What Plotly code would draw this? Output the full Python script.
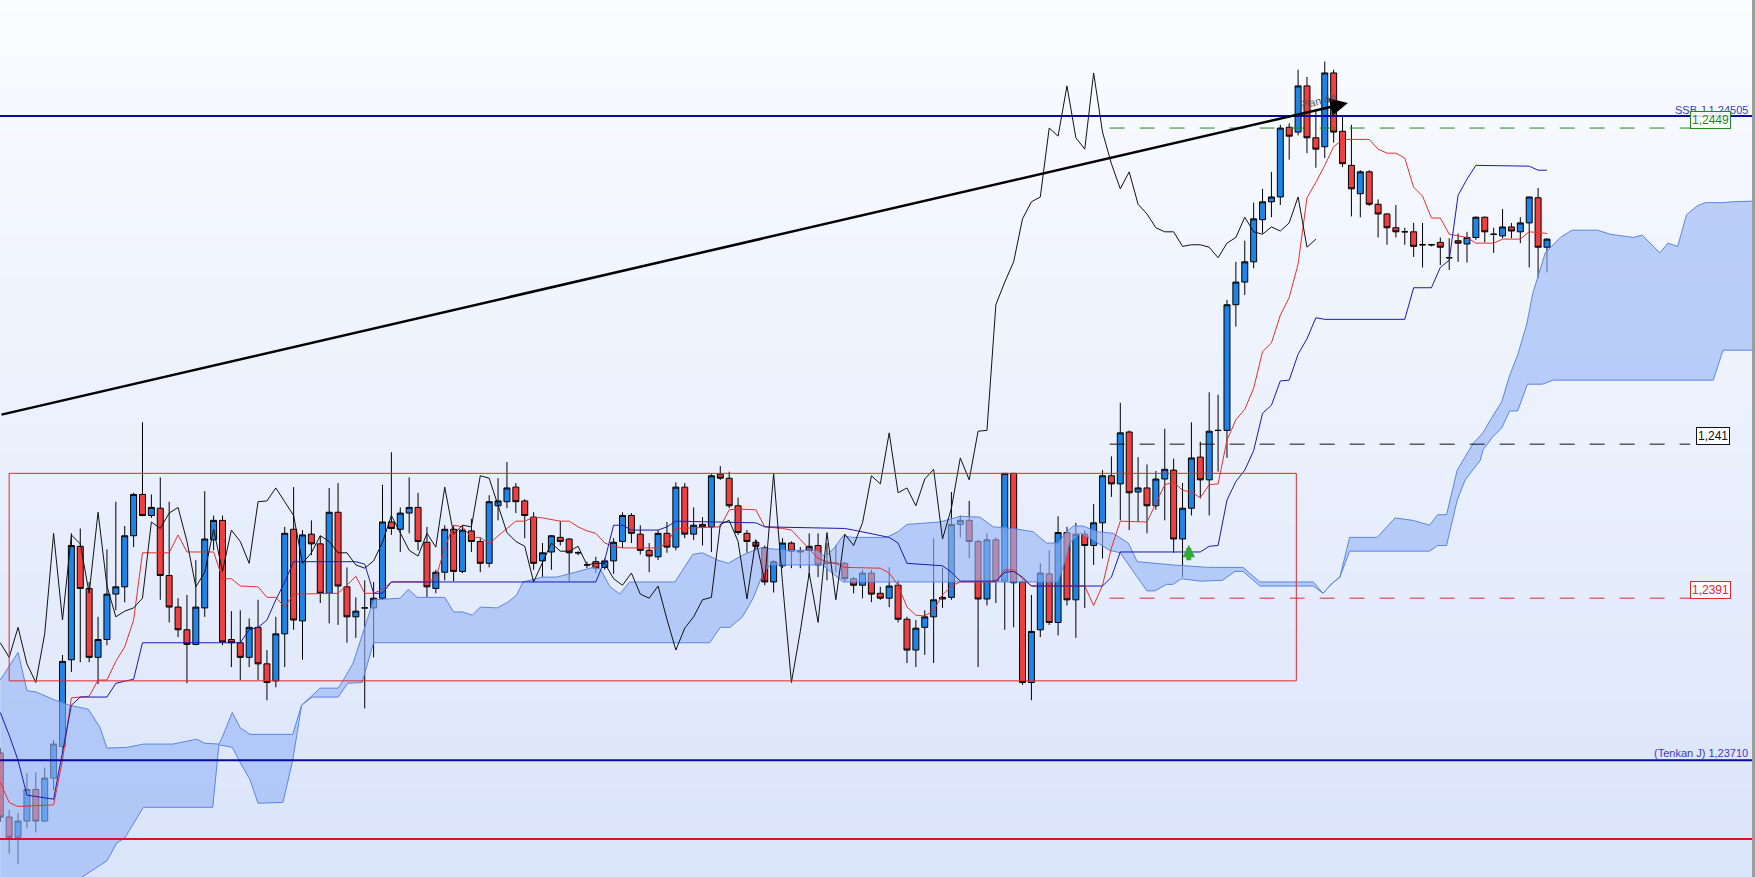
import plotly.graph_objects as go

# bougies (index de barre 0..174)
opens = [1.23719,1.23640,1.23615,1.23635,1.23674,1.23635,1.23688,1.23727,1.23834,1.23974,
         1.23922,1.23837,1.23859,1.23915,1.23924,1.23987,1.24038,1.24012,1.24021,1.23938,
         1.23899,1.23871,1.23853,1.23898,1.23982,1.24006,1.23859,1.23855,1.23837,1.23874,
         1.23829,1.23808,1.23866,1.23995,1.23882,1.23989,1.23977,1.23916,1.24016,1.23924,
         1.23887,1.23898,1.23898,1.23910,1.24004,1.23995,1.24015,1.24022,1.23979,1.23922,
         1.23942,1.23995,1.23943,1.23993,1.23980,1.23953,1.24024,1.24029,1.24047,1.24030,
         1.24010,1.23956,1.23967,1.23985,1.23983,1.23966,1.23951,1.23955,1.23948,1.23956,
         1.23980,1.24012,1.23989,1.23969,1.23961,1.23990,1.23973,1.24047,1.23989,1.24001,
         1.23998,1.24063,1.24058,1.24024,1.23990,1.23979,1.23972,1.23930,1.23950,1.23978,
         1.23967,1.23969,1.23975,1.23953,1.23953,1.23953,1.23934,1.23926,1.23941,1.23916,
         1.23910,1.23926,1.23884,1.23846,1.23874,1.23887,1.23909,1.23911,1.24001,1.24006,
         1.23980,1.23909,1.23982,1.23931,1.24064,1.23930,1.23806,1.23871,1.23940,1.23880,
         1.23991,1.23908,1.23989,1.23975,1.24003,1.24061,1.24051,1.24115,1.24041,1.24046,
         1.24024,1.24057,1.24068,1.23983,1.24021,1.24084,1.24056,1.24117,1.24117,1.24272,
         1.24300,1.24325,1.24377,1.24399,1.24405,1.24491,1.24485,1.24542,1.24478,1.24467,
         1.24558,1.24486,1.24444,1.24409,1.24436,1.24396,1.24384,1.24367,1.24362,1.24362,
         1.24346,1.24346,1.24349,1.24330,1.24351,1.24347,1.24355,1.24380,1.24359,1.24357,
         1.24368,1.24362,1.24373,1.24404,1.24343]
highs = [1.23725,1.23649,1.23645,1.23694,1.23695,1.23701,1.23735,1.23840,1.23990,1.23996,
         1.23930,1.23887,1.23970,1.24029,1.23999,1.24040,1.24127,1.24038,1.24059,1.24029,
         1.23910,1.23914,1.23957,1.24042,1.24012,1.24012,1.23894,1.23895,1.23885,1.23908,
         1.23846,1.23887,1.23998,1.24047,1.23994,1.24006,1.23987,1.24046,1.24052,1.23948,
         1.23911,1.23932,1.23930,1.24050,1.24090,1.24022,1.24059,1.24040,1.23998,1.23945,
         1.24000,1.24000,1.24000,1.24008,1.23984,1.24037,1.24058,1.24078,1.24052,1.24032,
         1.24016,1.23978,1.23988,1.24005,1.23984,1.23968,1.23955,1.23961,1.23959,1.23984,
         1.24016,1.24015,1.24000,1.23978,1.23994,1.24004,1.24053,1.24052,1.24022,1.24010,
         1.24063,1.24073,1.24066,1.24034,1.23994,1.23982,1.23975,1.23957,1.23984,1.23980,
         1.23973,1.23990,1.23990,1.23978,1.23975,1.23955,1.23936,1.23945,1.23945,1.23924,
         1.23948,1.23932,1.23887,1.23883,1.23895,1.23984,1.23948,1.24041,1.24012,1.24030,
         1.23982,1.23990,1.23985,1.24064,1.24064,1.23932,1.23914,1.23953,1.23969,1.24011,
         1.23998,1.24003,1.23994,1.24026,1.24068,1.24085,1.24151,1.24117,1.24084,1.24075,
         1.24067,1.24119,1.24082,1.24052,1.24127,1.24103,1.24164,1.24161,1.24278,1.24325,
         1.24351,1.24398,1.24415,1.24436,1.24494,1.24496,1.24562,1.24553,1.24512,1.24572,
         1.24562,1.24504,1.24494,1.24438,1.24438,1.24402,1.24385,1.24395,1.24367,1.24373,
         1.24373,1.24347,1.24355,1.24354,1.24360,1.24362,1.24381,1.24381,1.24367,1.24390,
         1.24373,1.24380,1.24405,1.24416,1.24354]
lows = [1.23634,1.23595,1.23582,1.23626,1.23621,1.23634,1.23673,1.23722,1.23819,1.23831,
        1.23831,1.23804,1.23852,1.23895,1.23905,1.23973,1.24011,1.24009,1.23908,1.23880,
        1.23862,1.23805,1.23852,1.23887,1.23969,1.23852,1.23825,1.23809,1.23825,1.23809,
        1.23784,1.23800,1.23825,1.23871,1.23834,1.23963,1.23904,1.23879,1.23877,1.23855,
        1.23861,1.23774,1.23837,1.23908,1.23988,1.23967,1.23990,1.23969,1.23911,1.23916,
        1.23932,1.23931,1.23941,1.23967,1.23942,1.23948,1.24006,1.24021,1.24015,1.23984,
        1.23945,1.23936,1.23945,1.23975,1.23930,1.23963,1.23947,1.23941,1.23945,1.23940,
        1.23972,1.23978,1.23964,1.23942,1.23957,1.23966,1.23969,1.23984,1.23982,1.23975,
        1.23967,1.24056,1.24021,1.23988,1.23966,1.23969,1.23926,1.23917,1.23947,1.23947,
        1.23947,1.23936,1.23936,1.23932,1.23942,1.23930,1.23916,1.23910,1.23905,1.23908,
        1.23899,1.23880,1.23830,1.23825,1.23840,1.23830,1.23898,1.23908,1.23985,1.23959,
        1.23825,1.23901,1.23904,1.23871,1.23874,1.23803,1.23784,1.23862,1.23877,1.23864,
        1.23901,1.23861,1.23898,1.23951,1.23959,1.24035,1.24006,1.23994,1.24004,1.23990,
        1.24019,1.24006,1.23966,1.23936,1.24012,1.24033,1.24012,1.24066,1.24083,1.24245,
        1.24284,1.24317,1.24360,1.24380,1.24395,1.24451,1.24481,1.24459,1.24441,1.24453,
        1.24472,1.24442,1.24381,1.24380,1.24394,1.24355,1.24346,1.24355,1.24346,1.24331,
        1.24318,1.24344,1.24321,1.24315,1.24325,1.24324,1.24352,1.24349,1.24336,1.24354,
        1.24354,1.24348,1.24318,1.24305,1.24312]
closes = [1.23640,1.23615,1.23635,1.23674,1.23635,1.23688,1.23730,1.23832,1.23975,1.23922,
          1.23837,1.23859,1.23915,1.23924,1.23987,1.24038,1.24012,1.24022,1.23938,1.23899,
          1.23871,1.23853,1.23899,1.23983,1.24006,1.23856,1.23855,1.23837,1.23874,1.23829,
          1.23806,1.23866,1.23990,1.23883,1.23988,1.23977,1.23916,1.24016,1.23925,1.23887,
          1.23894,1.23898,1.23910,1.24004,1.23996,1.24015,1.24022,1.23980,1.23924,1.23942,
          1.23995,1.23943,1.23994,1.23980,1.23953,1.24029,1.24030,1.24046,1.24029,1.24012,
          1.23953,1.23966,1.23987,1.23980,1.23966,1.23966,1.23951,1.23947,1.23956,1.23979,
          1.24012,1.23990,1.23969,1.23962,1.23990,1.23973,1.24047,1.23989,1.24000,1.23998,
          1.24061,1.24058,1.24024,1.23991,1.23980,1.23974,1.23930,1.23955,1.23978,1.23968,
          1.23968,1.23974,1.23951,1.23953,1.23953,1.23934,1.23926,1.23941,1.23915,1.23910,
          1.23925,1.23884,1.23846,1.23873,1.23887,1.23908,1.23911,1.24001,1.24006,1.23980,
          1.23909,1.23982,1.23931,1.24064,1.23929,1.23806,1.23869,1.23941,1.23880,1.23991,
          1.23908,1.23989,1.23975,1.24003,1.24061,1.24051,1.24114,1.24040,1.24046,1.24024,
          1.24057,1.24069,1.23983,1.24021,1.24083,1.24056,1.24116,1.24117,1.24272,1.24300,
          1.24325,1.24378,1.24399,1.24405,1.24490,1.24480,1.24542,1.24478,1.24464,1.24558,
          1.24485,1.24446,1.24415,1.24436,1.24396,1.24384,1.24367,1.24362,1.24362,1.24344,
          1.24346,1.24346,1.24343,1.24330,1.24348,1.24355,1.24380,1.24362,1.24359,1.24368,
          1.24363,1.24373,1.24405,1.24343,1.24353]
bars = list(range(len(closes)))

# Tenkan (rouge)
tk_x = [0,1,2,6,7,8,10,11,12,13,14,15,16,19,20,21,24,25,26,27,29,30,31,32,33,38,39,40,41,42,
        43,44,48,49,50,51,52,53,54,55,56,58,59,60,61,63,64,65,66,67,68,69,70,74,75,76,81,82,83,85,
        86,88,89,90,92,93,94,95,99,100,101,102,103,104,105,106,107,108,112,113,114,115,116,122,
        123,124,125,126,129,130,131,132,133,134,135,136,137,138,139,140,141,142,143,144,145,146,
        147,148,149,150,151,154,155,156,157,158,159,160,161,162,163,165,166,168,169,171,172,174]
tk_y = [1.23683,1.23658,1.23653,1.23655,1.23710,1.23787,1.23789,1.23809,1.23809,1.23832,
        1.23850,1.23883,1.23966,1.23966,1.23988,1.23967,1.23967,1.23934,1.23934,1.23925,
        1.23924,1.23911,1.23911,1.23899,1.23915,1.23916,1.23926,1.23937,1.23916,1.23916,
        1.23921,1.23930,1.23930,1.23935,1.23972,1.24000,1.23998,1.23985,1.23985,1.23977,
        1.23987,1.24005,1.24005,1.24010,1.24009,1.24005,1.24005,1.23998,1.23993,1.23990,
        1.23978,1.23974,1.23972,1.23972,1.23978,1.23996,1.23998,1.24019,1.24020,1.24019,
        1.23998,1.23996,1.23994,1.23982,1.23959,1.23955,1.23953,1.23948,1.23947,1.23941,
        1.23926,1.23899,1.23889,1.23888,1.23895,1.23914,1.23925,1.23930,1.23930,1.23945,
        1.23945,1.23934,1.23925,1.23925,1.23901,1.23926,1.23972,1.24005,1.24004,1.24027,
        1.24050,1.24053,1.24043,1.24041,1.24034,1.24050,1.24051,1.24105,1.24130,1.24143,
        1.24169,1.24214,1.24225,1.24259,1.24281,1.24322,1.24404,1.24423,1.24444,1.24467,
        1.24476,1.24476,1.24464,1.24459,1.24459,1.24453,1.24417,1.24406,1.24379,1.24379,
        1.24359,1.24355,1.24348,1.24348,1.24353,1.24353,1.24362,1.24360]

# Kijun (bleu foncé)
kj_x = [0,1,2,3,6,7,8,9,12,13,15,16,27,28,29,30,31,32,33,40,41,42,43,44,67,68,69,70,71,74,
        75,76,85,86,95,96,100,101,102,106,107,108,112,113,114,115,116,124,125,126,135,136,137,
        138,139,140,141,142,143,144,145,146,147,148,149,158,159,161,162,163,164,165,166,172,173,174]
kj_y = [1.23769,1.23741,1.23710,1.23667,1.23662,1.23722,1.23778,1.23788,1.23788,1.23805,
        1.23810,1.23855,1.23855,1.23871,1.23874,1.23883,1.23908,1.23930,1.23955,1.23955,
        1.23952,1.23916,1.23916,1.23930,1.23930,1.23957,1.24000,1.24000,1.23994,1.23994,
        1.23998,1.24005,1.24003,1.23998,1.23996,1.23994,1.23985,1.23978,1.23953,1.23950,
        1.23942,1.23931,1.23931,1.23942,1.23943,1.23936,1.23925,1.23925,1.23936,1.23967,
        1.23967,1.23974,1.23975,1.24031,1.24054,1.24068,1.24092,1.24138,1.24148,1.24178,
        1.24179,1.24211,1.24230,1.24256,1.24254,1.24254,1.24293,1.24293,1.24318,1.24327,
        1.24407,1.24427,1.24444,1.24443,1.24438,1.24438]

# nuage : bord haut / bord bas
cu_x = [0,2,3,4.1,6.2,7.8,9.9,11.2,12,14.3,16.1,19.4,22.1,23,24.6,25,26.1,27,28.1,32.9,
        33.9,36,38,38.6,39.7,40.8,41.6,42,45,45.9,46.9,50,51,52,53.1,54,55.9,57.1,58.1,58.8,
        61,62.6,64.7,66.7,67.5,68.6,69.7,70.8,75.9,76.8,77.9,79,80.7,81.9,83.5,85.5,88.8,91.9,92.8,93.9,
        94.8,95.8,99.7,101,102,105.7,108,110.2,111.7,113.9,116.2,117.7,119,119.8,120.7,121.8,123.4,125.2,126.9,127.9,
        129.9,131.9,135.9,139.8,141.7,147.7,148.8,149.9,150.7,151.8,154.9,156.9,158.9,160.8,161.7,162.7,163.9,165.7,166.8,167.8,
        168.9,169.8,170.7,171.7,172.4,173.8,175.5,176.8,179.7,181.1,183.7,184.7,186.7,187.6,188.7,189.7,190.9,191.8,193.8,194.8,197.5]
cu_y = [1.23809,1.23843,1.23796,1.23794,1.23784,1.23778,1.23773,1.23751,1.23725,1.23726,
        1.23730,1.23730,1.23736,1.23731,1.23730,1.23739,1.23769,1.23750,1.23742,1.23742,
        1.23778,1.23799,1.23799,1.23809,1.23830,1.23867,1.23892,1.23908,1.23910,1.23921,
        1.23911,1.23911,1.23893,1.23893,1.23889,1.23899,1.23898,1.23905,1.23914,1.23930,
        1.23936,1.23936,1.23942,1.23948,1.23946,1.23924,1.23915,1.23930,1.23930,1.23945,
        1.23964,1.23966,1.23957,1.23953,1.23963,1.23972,1.23969,1.23969,1.23961,1.23973,
        1.23987,1.23985,1.23985,1.23992,1.24001,1.24004,1.24011,1.24010,1.23998,1.23996,
        1.23992,1.23978,1.23978,1.23990,1.23999,1.23999,1.23992,1.23990,1.23978,1.23955,
        1.23953,1.23951,1.23948,1.23948,1.23930,1.23930,1.23916,1.23929,1.23936,1.23985,
        1.23985,1.24009,1.24006,1.24000,1.24013,1.24013,1.24068,1.24101,1.24114,1.24133,
        1.24152,1.24185,1.24210,1.24247,1.24286,1.24336,1.24355,1.24364,1.24364,1.24359,
        1.24355,1.24358,1.24336,1.24348,1.24344,1.24383,1.24394,1.24398,1.24398,1.24399,1.24400]
cl_x = [0,5.6,9.2,12,13.1,14,16.1,23.9,24.6,26.1,27,28.1,29,31.8,32.9,33.9,35.1,38,39.1,40.7,
        41.6,42,79.8,81,82.1,83.5,84.7,85.8,86.6,92.5,94.8,119,119.8,120.3,121.5,122.9,124.8,126,127.9,129,
        129.9,131.2,131.9,132.9,135,137.5,138.9,139.8,141.7,147.7,148.8,149.9,150.7,151.8,160.8,161.7,162.7,163.9,164.8,166.5,
        166.8,167.9,168.9,169.8,170.7,171.8,173.5,174.7,192.7,193.8,197.5]
cl_y = [1.23476,1.23531,1.23566,1.23586,1.23608,1.23614,1.23652,1.23652,1.23729,1.23726,
        1.23707,1.23686,1.23657,1.23658,1.23710,1.23778,1.23788,1.23788,1.23805,1.23806,
        1.23842,1.23855,1.23855,1.23874,1.23874,1.23887,1.23910,1.23940,1.23951,1.23951,
        1.23930,1.23930,1.23957,1.23978,1.23990,1.23982,1.23969,1.23966,1.23936,1.23919,
        1.23919,1.23927,1.23927,1.23934,1.23931,1.23932,1.23943,1.23943,1.23925,1.23925,
        1.23916,1.23929,1.23936,1.23968,1.23968,1.23975,1.23975,1.24031,1.24056,1.24080,
        1.24093,1.24109,1.24120,1.24141,1.24141,1.24174,1.24174,1.24179,1.24179,1.24216,1.24216]

chikou_shift = 26

# niveaux et dessins
ssb_j = 1.24505
tenkan_j = 1.23710
red_level = 1.23613
lvl_green = 1.2449
lvl_black = 1.241
lvl_red = 1.2391
box = dict(x0=1.0, x1=145.8, y0=1.23808, y1=1.24064)
trend = dict(x0=-0.03, y0=1.24136, x1=151.6, y1=1.24521)
dash_start, dash_end = 124.8, 190.1
buy_signal = (133.7, 1.23976)

x_range = [-0.03, 197.4]
y_range = [1.23566, 1.24648]

FONT = "Liberation Sans, Arial, sans-serif"

fig = go.Figure()

# nuage
fig.add_trace(go.Scatter(x=cu_x, y=cu_y, mode="lines",
                         line=dict(color="#5A86E2", width=1), hoverinfo="skip"))
fig.add_trace(go.Scatter(x=cl_x, y=cl_y, mode="lines", fill="tonexty",
                         fillcolor="rgba(150,180,245,0.62)",
                         line=dict(color="#5A86E2", width=1), hoverinfo="skip"))

fig.add_trace(go.Candlestick(
    x=bars, open=opens, high=highs, low=lows, close=closes,
    increasing=dict(fillcolor="#1E84E8", line=dict(color="black", width=1)),
    decreasing=dict(fillcolor="#EE4040", line=dict(color="black", width=1)),
    whiskerwidth=0))

fig.add_trace(go.Scatter(x=tk_x, y=tk_y, mode="lines", line=dict(color="#E8302C", width=1)))
fig.add_trace(go.Scatter(x=kj_x, y=kj_y, mode="lines", line=dict(color="#1A1AB4", width=1)))
fig.add_trace(go.Scatter(x=[b - chikou_shift for b in bars[chikou_shift:]],
                         y=closes[chikou_shift:], mode="lines",
                         line=dict(color="#111111", width=1)))

# fond en dégradé
n = 60
top, bot = (251, 252, 255), (218, 228, 250)
for k in range(n):
    t = (k + 0.5) / n
    c = tuple(round(bot[j] + (top[j] - bot[j]) * t) for j in range(3))
    fig.add_shape(type="rect", xref="paper", yref="paper", x0=0, x1=1,
                  y0=k / n, y1=(k + 1) / n + 0.002, layer="below",
                  line=dict(width=0), fillcolor="rgb(%d,%d,%d)" % c)

fig.add_shape(type="rect", x0=box["x0"], x1=box["x1"], y0=box["y0"], y1=box["y1"],
              line=dict(color="#E02828", width=1))
for lv, col in [(ssb_j, "#0A0A9C"), (tenkan_j, "#0A0A9C"), (red_level, "#E01414")]:
    fig.add_shape(type="line", xref="paper", x0=0, x1=1, y0=lv, y1=lv,
                  line=dict(color=col, width=2))
for lv, col in [(lvl_green, "#1E8A1E"), (lvl_black, "#111111"), (lvl_red, "#E02828")]:
    fig.add_shape(type="line", x0=dash_start, x1=dash_end, y0=lv, y1=lv,
                  line=dict(color=col, width=1, dash="longdash"))
fig.add_shape(type="rect", xref="paper", yref="paper", x0=0.9983, x1=1.0, y0=0, y1=1,
              line=dict(width=0), fillcolor="#9C9C9C")

# ligne de tendance avec flèche
fig.add_annotation(x=trend["x1"], y=trend["y1"], ax=trend["x0"], ay=trend["y0"],
                   xref="x", yref="y", axref="x", ayref="y", text="", showarrow=True,
                   arrowhead=2, arrowsize=1.4, arrowwidth=2.5, arrowcolor="black", standoff=0)
fig.add_annotation(x=148.2, y=1.24524, text="Plan 4h", showarrow=False, textangle=-13,
                   font=dict(family=FONT, size=11, color="#555555"))

# flèche verte
fig.add_annotation(x=buy_signal[0], y=buy_signal[1], ax=0, ay=17, text="", showarrow=True,
                   arrowhead=2, arrowsize=0.5, arrowwidth=5, arrowcolor="#33A833", standoff=0)

# étiquettes
right_x = 196.8
fig.add_annotation(x=right_x, y=ssb_j, text="SSB J 1,24505", showarrow=False,
                   xanchor="right", yanchor="bottom", yshift=-2,
                   font=dict(family=FONT, size=11, color="#3A3AC8"))
fig.add_annotation(x=right_x, y=tenkan_j, text="(Tenkan J) 1,23710", showarrow=False,
                   xanchor="right", yanchor="bottom", yshift=-1,
                   font=dict(family=FONT, size=11, color="#3A3AC8"))
for lv, txt, col, x0 in [(lvl_green, "1,2449", "#1E8A1E", 190.1),
                         (lvl_black, "1,241", "#111111", 190.8),
                         (lvl_red, "1,2391", "#E02828", 190.1)]:
    fig.add_annotation(x=x0, y=lv, text=txt, showarrow=False, xanchor="left",
                       yanchor="bottom", yshift=-1,
                       font=dict(family=FONT, size=12, color=col),
                       bordercolor=col, borderwidth=1, borderpad=1,
                       bgcolor="rgba(255,255,255,0.85)")

fig.update_layout(
    width=1755, height=877, margin=dict(l=0, r=0, t=0, b=0),
    showlegend=False, plot_bgcolor="#EEF2FC", paper_bgcolor="#EEF2FC",
    boxgap=0.18, boxgroupgap=0.18,
    xaxis=dict(range=x_range, visible=False, rangeslider=dict(visible=False), fixedrange=True),
    yaxis=dict(range=y_range, visible=False, fixedrange=True),
    font=dict(family=FONT),
)

fig.write_html("out.html", config={"displayModeBar": False},
               post_script="document.body.style.margin='0';document.body.style.padding='0';"
                           "document.body.style.overflow='hidden';")
